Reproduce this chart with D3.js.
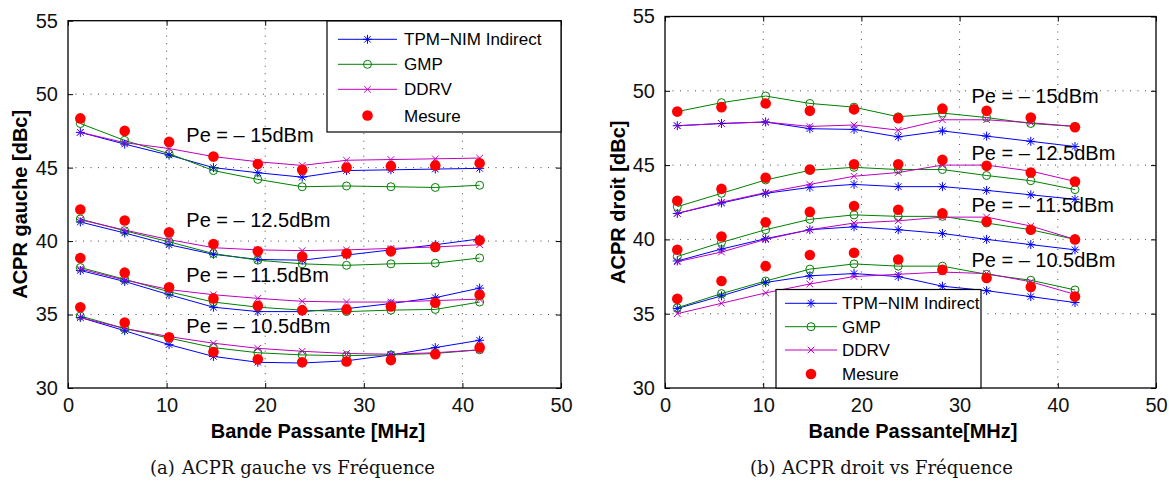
<!DOCTYPE html>
<html><head><meta charset="utf-8">
<script src="https://cdn.jsdelivr.net/npm/d3@7/dist/d3.min.js"></script>
<style>body{margin:0;background:#fff}svg{display:block}</style>
</head><body><svg id="c" width="1169" height="481"></svg>
<script>
// ---------------- data ----------------
const xMHz = [1.25, 5.75, 10.25, 14.75, 19.25, 23.75, 28.25, 32.75, 37.25, 41.75];
const xTicks = [0, 10, 20, 30, 40, 50];
const yTicks = [30, 35, 40, 45, 50, 55];
const powerLabels = ["Pe = \u2013 15dBm", "Pe = \u2013 12.5dBm", "Pe = \u2013 11.5dBm", "Pe = \u2013 10.5dBm"];
const seriesNames = ["TPM\u2212NIM Indirect", "GMP", "DDRV", "Mesure"];

// ACPR gauche (left), one row per input power (-15, -12.5, -11.5, -10.5 dBm)
const gaucheTPM = [
  [47.4, 46.6, 45.85, 45.0, 44.65, 44.35, 44.8, 44.85, 44.9, 44.95],
  [41.3, 40.55, 39.75, 39.1, 38.75, 38.7, 39.05, 39.4, 39.75, 40.15],
  [38.0, 37.25, 36.35, 35.5, 35.2, 35.2, 35.4, 35.75, 36.15, 36.8],
  [34.8, 33.9, 32.95, 32.15, 31.75, 31.7, 31.85, 32.25, 32.75, 33.25]
];
const gaucheGMP = [
  [48.0, 46.85, 45.95, 44.8, 44.2, 43.7, 43.75, 43.7, 43.65, 43.8],
  [41.5, 40.7, 39.95, 39.15, 38.7, 38.45, 38.35, 38.45, 38.5, 38.85],
  [38.2, 37.4, 36.55, 35.85, 35.5, 35.3, 35.2, 35.3, 35.35, 35.85],
  [34.9, 34.05, 33.4, 32.75, 32.4, 32.25, 32.2, 32.25, 32.35, 32.6]
];
const gaucheDDRV = [
  [47.4, 46.7, 46.3, 45.75, 45.4, 45.15, 45.5, 45.55, 45.6, 45.65],
  [41.45, 40.75, 40.1, 39.55, 39.4, 39.35, 39.4, 39.5, 39.6, 39.75],
  [38.1, 37.35, 36.7, 36.35, 36.1, 35.9, 35.85, 35.85, 35.95, 36.05],
  [34.8, 34.05, 33.5, 33.05, 32.7, 32.5, 32.35, 32.3, 32.4, 32.6]
];
const gaucheMesure = [
  [48.35, 47.5, 46.75, 45.75, 45.25, 44.85, 45.0, 45.1, 45.15, 45.3],
  [42.15, 41.4, 40.6, 39.8, 39.3, 38.95, 39.15, 39.3, 39.6, 40.05],
  [38.85, 37.85, 36.85, 36.1, 35.6, 35.3, 35.35, 35.55, 35.8, 36.35],
  [35.5, 34.45, 33.45, 32.45, 31.95, 31.75, 31.8, 31.9, 32.3, 32.75]
];

// ACPR droit (right)
const droitTPM = [
  [47.65, 47.8, 47.9, 47.45, 47.4, 46.9, 47.3, 46.95, 46.6, 46.25],
  [41.75, 42.45, 43.1, 43.5, 43.7, 43.55, 43.55, 43.3, 43.0, 42.7],
  [38.55, 39.35, 40.05, 40.65, 40.85, 40.65, 40.4, 40.0, 39.65, 39.3],
  [35.35, 36.2, 37.1, 37.55, 37.7, 37.5, 36.85, 36.55, 36.15, 35.75]
];
const droitGMP = [
  [48.6, 49.2, 49.65, 49.15, 48.9, 48.25, 48.5, 48.2, 47.8, 47.6],
  [42.2, 43.1, 44.0, 44.65, 44.85, 44.7, 44.7, 44.3, 43.95, 43.35],
  [38.85, 39.8, 40.65, 41.35, 41.65, 41.55, 41.55, 41.1, 40.65, 40.0],
  [35.4, 36.35, 37.2, 38.0, 38.35, 38.2, 38.2, 37.65, 37.25, 36.6]
];
const droitDDRV = [
  [47.65, 47.8, 47.9, 47.6, 47.7, 47.35, 48.05, 48.05, 47.85, 47.6],
  [41.75, 42.5, 43.15, 43.7, 44.25, 44.5, 45.0, 45.0, 44.6, 43.9],
  [38.5, 39.15, 40.0, 40.65, 41.1, 41.25, 41.5, 41.5, 40.9, 40.0],
  [35.0, 35.7, 36.4, 37.0, 37.5, 37.65, 37.8, 37.7, 37.15, 36.3]
];
const droitMesure = [
  [48.6, 48.9, 49.15, 48.65, 48.75, 48.15, 48.8, 48.65, 48.2, 47.55],
  [42.6, 43.4, 44.15, 44.7, 45.05, 45.05, 45.35, 44.95, 44.5, 43.9],
  [39.3, 40.2, 41.15, 41.85, 42.25, 42.0, 41.75, 41.2, 40.65, 40.0],
  [36.0, 37.2, 38.2, 38.95, 39.1, 38.65, 37.95, 37.4, 36.8, 36.15]
];

// ---------------- layout / style ----------------
const colors = ["#0000ff", "#008000", "#bf00bf", "#ff0000"];
const FONT = "'Liberation Sans', Arial, Helvetica, sans-serif";

const panels = [
  {
    x0: 68, x1: 561, y0: 20.7, y1: 388,
    ylabel: "ACPR gauche [dBc]", ylabelX: 20,
    xlabel: "Bande Passante [MHz]", xlabelX: 318,
    capTag: "(a)", capText: "ACPR gauche vs Fr\u00e9quence", capX: 150, capTextX: 182,
    series: [gaucheTPM, gaucheGMP, gaucheDDRV, gaucheMesure],
    annotX: 12, annotY: [46.71, 40.99, 37.24, 33.77],
    legend: {x: 327, y: 21, w: 234, h: 111, rows: [39.3, 64.3, 89.3, 115.5], l0: 338, l1: 397, tx: 404}
  },
  {
    x0: 665, x1: 1156, y0: 16.5, y1: 388,
    ylabel: "ACPR droit [dBc]", ylabelX: 618,
    xlabel: "Bande Passante[MHz]", xlabelX: 913,
    capTag: "(b)", capText: "ACPR droit vs Fr\u00e9quence", capX: 750, capTextX: 782,
    series: [droitTPM, droitGMP, droitDDRV, droitMesure],
    annotX: 31.2, annotY: [49.15, 45.34, 41.86, 38.16],
    legend: {x: 776, y: 289.5, w: 205, h: 98.5, rows: [303.3, 326.7, 350, 374], l0: 785, l1: 837, tx: 842}
  }
];

const svg = d3.select("#c");

function drawMarker(g, kind, cx, cy) {
  if (kind === 0) { // asterisk
    const r = 4.5, d = r * 0.72;
    const p = `M${cx - r},${cy}L${cx + r},${cy}M${cx},${cy - r}L${cx},${cy + r}` +
              `M${cx - d},${cy - d}L${cx + d},${cy + d}M${cx - d},${cy + d}L${cx + d},${cy - d}`;
    g.append("path").attr("d", p).attr("stroke", colors[0]).attr("stroke-width", 1).attr("fill", "none");
  } else if (kind === 1) { // open circle
    g.append("circle").attr("cx", cx).attr("cy", cy).attr("r", 4)
      .attr("fill", "none").attr("stroke", colors[1]).attr("stroke-width", 1);
  } else if (kind === 2) { // x
    const d = 3.3;
    g.append("path").attr("d", `M${cx - d},${cy - d}L${cx + d},${cy + d}M${cx - d},${cy + d}L${cx + d},${cy - d}`)
      .attr("stroke", colors[2]).attr("stroke-width", 1).attr("fill", "none");
  } else { // filled dot
    g.append("circle").attr("cx", cx).attr("cy", cy).attr("r", 5.3).attr("fill", colors[3]);
  }
}

panels.forEach(P => {
  const x = d3.scaleLinear().domain([0, 50]).range([P.x0, P.x1]);
  const y = d3.scaleLinear().domain([30, 55]).range([P.y1, P.y0]);
  const g = svg.append("g");

  // grid
  const grid = g.append("g").attr("stroke", "#333").attr("stroke-width", 0.9).attr("stroke-dasharray", "1,6.5");
  yTicks.slice(1, -1).forEach(t => grid.append("line").attr("x1", P.x0).attr("x2", P.x1).attr("y1", y(t)).attr("y2", y(t)));
  xTicks.slice(1, -1).forEach(t => grid.append("line").attr("y1", P.y0).attr("y2", P.y1).attr("x1", x(t)).attr("x2", x(t)));

  // axes (ticks inside, box)
  const axL = d3.axisLeft(y).tickValues(yTicks).tickSizeInner(-5).tickSizeOuter(0).tickPadding(10);
  const axB = d3.axisBottom(x).tickValues(xTicks).tickSizeInner(-5).tickSizeOuter(0).tickPadding(10);
  const axR = d3.axisRight(y).tickValues(yTicks).tickSizeInner(-5).tickSizeOuter(0).tickFormat("");
  const axT = d3.axisTop(x).tickValues(xTicks).tickSizeInner(-5).tickSizeOuter(0).tickFormat("");
  [[axL, `translate(${P.x0},0)`], [axB, `translate(0,${P.y1})`], [axR, `translate(${P.x1},0)`], [axT, `translate(0,${P.y0})`]]
    .forEach(([ax, tr]) => {
      const a = g.append("g").attr("transform", tr).call(ax);
      a.select(".domain").remove();
      a.selectAll("line").attr("stroke", "#000").attr("stroke-width", 1);
      a.selectAll("text").attr("font-family", FONT).attr("font-size", 20).attr("fill", "#111");
    });
  g.append("rect").attr("x", P.x0).attr("y", P.y0).attr("width", P.x1 - P.x0).attr("height", P.y1 - P.y0)
    .attr("fill", "none").attr("stroke", "#000").attr("stroke-width", 1.3);

  // series
  const line = d3.line().x((d, i) => x(xMHz[i])).y(d => y(d));
  for (let s = 0; s < 3; s++) {
    P.series[s].forEach(row => {
      g.append("path").datum(row).attr("d", line).attr("fill", "none")
        .attr("stroke", colors[s]).attr("stroke-width", 1);
    });
  }
  for (let s = 0; s < 4; s++) {
    const mg = g.append("g");
    P.series[s].forEach(row => row.forEach((v, i) => drawMarker(mg, s, x(xMHz[i]), y(v))));
  }

  // annotations
  powerLabels.forEach((t, k) => {
    g.append("text").attr("x", x(P.annotX)).attr("y", y(P.annotY[k]))
      .attr("font-family", FONT).attr("font-size", 20).attr("fill", "#000").text(t);
  });

  // axis labels
  g.append("text").attr("transform", `translate(${P.ylabelX + 7},${(P.y0 + P.y1) / 2}) rotate(-90)`)
    .attr("text-anchor", "middle").attr("font-family", FONT).attr("font-weight", "bold").attr("font-size", 20)
    .text(P.ylabel);
  g.append("text").attr("x", P.xlabelX).attr("y", 438).attr("text-anchor", "middle")
    .attr("font-family", FONT).attr("font-weight", "bold").attr("font-size", 20).text(P.xlabel);

  // caption
  const cap = g.append("text").attr("y", 474)
    .attr("font-family", "'DejaVu Serif', 'Liberation Serif', serif").attr("font-size", 18).attr("fill", "#111");
  cap.append("tspan").attr("x", P.capX).text(P.capTag);
  cap.append("tspan").attr("x", P.capTextX).text(P.capText);

  // legend
  const L = P.legend;
  const lg = g.append("g");
  lg.append("rect").attr("x", L.x).attr("y", L.y).attr("width", L.w).attr("height", L.h)
    .attr("fill", "#fff").attr("stroke", "#000").attr("stroke-width", 1.2);
  seriesNames.forEach((n, k) => {
    const ry = L.rows[k];
    if (k < 3) lg.append("line").attr("x1", L.l0).attr("x2", L.l1).attr("y1", ry).attr("y2", ry)
      .attr("stroke", colors[k]).attr("stroke-width", 1);
    drawMarker(lg, k, (L.l0 + L.l1) / 2, ry);
    lg.append("text").attr("x", L.tx).attr("y", ry).attr("dy", "0.36em")
      .attr("font-family", FONT).attr("font-size", 17).attr("fill", "#000").text(n);
  });
});
</script></body></html>
